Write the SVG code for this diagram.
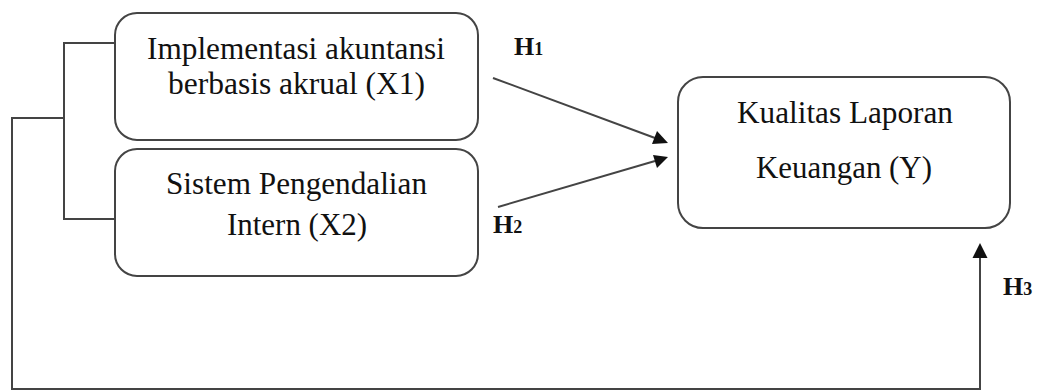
<svg xmlns="http://www.w3.org/2000/svg" width="1044" height="390" viewBox="0 0 1044 390">
<style>
.box{fill:#fff;stroke:#444;stroke-width:2}
.t{font-family:"Liberation Serif","Times New Roman",serif;font-size:31px;fill:#111;text-anchor:middle}
.h{font-family:"Liberation Serif","Times New Roman",serif;font-size:26px;font-weight:bold;fill:#111}
.sub{font-size:18px}
.c{fill:none;stroke:#444;stroke-width:2}
</style>
<rect width="1044" height="390" fill="#fff"/>
<g id="connectors">
<path class="c" d="M115,43 H64 V219 H115"/>
<path class="c" d="M64,118 H12 V389 H980 V258"/>
<polygon points="980,243 972.5,258 987.5,258" fill="#111"/>
<line class="c" x1="493" y1="78" x2="655" y2="138"/>
<polygon points="668,143 652,144 657,131" fill="#111"/>
<line class="c" x1="498" y1="207" x2="655" y2="161"/>
<polygon points="668,157 653,155 657,168" fill="#111"/>
</g>
<g id="x1">
<rect class="box" x="115" y="13" width="363" height="127" rx="22"/>
<text class="t" x="296" y="59" textLength="298" lengthAdjust="spacingAndGlyphs">Implementasi akuntansi</text>
<text class="t" x="296.5" y="94" textLength="257" lengthAdjust="spacingAndGlyphs">berbasis akrual (X1)</text>
</g>
<g id="x2">
<rect class="box" x="115" y="149" width="363" height="127" rx="22"/>
<text class="t" x="296.5" y="194" textLength="261" lengthAdjust="spacingAndGlyphs">Sistem Pengendalian</text>
<text class="t" x="297" y="235" textLength="140" lengthAdjust="spacingAndGlyphs">Intern (X2)</text>
</g>
<g id="y">
<rect class="box" x="678" y="77" width="332" height="151" rx="25"/>
<text class="t" x="845" y="123" textLength="216" lengthAdjust="spacingAndGlyphs">Kualitas Laporan</text>
<text class="t" x="844" y="178" textLength="176" lengthAdjust="spacingAndGlyphs">Keuangan (Y)</text>
</g>
<g id="labels">
<text class="h" x="514" y="55">H<tspan class="sub">1</tspan></text>
<text class="h" x="493" y="233">H<tspan class="sub">2</tspan></text>
<text class="h" x="1003" y="295">H<tspan class="sub">3</tspan></text>
</g>
</svg>
